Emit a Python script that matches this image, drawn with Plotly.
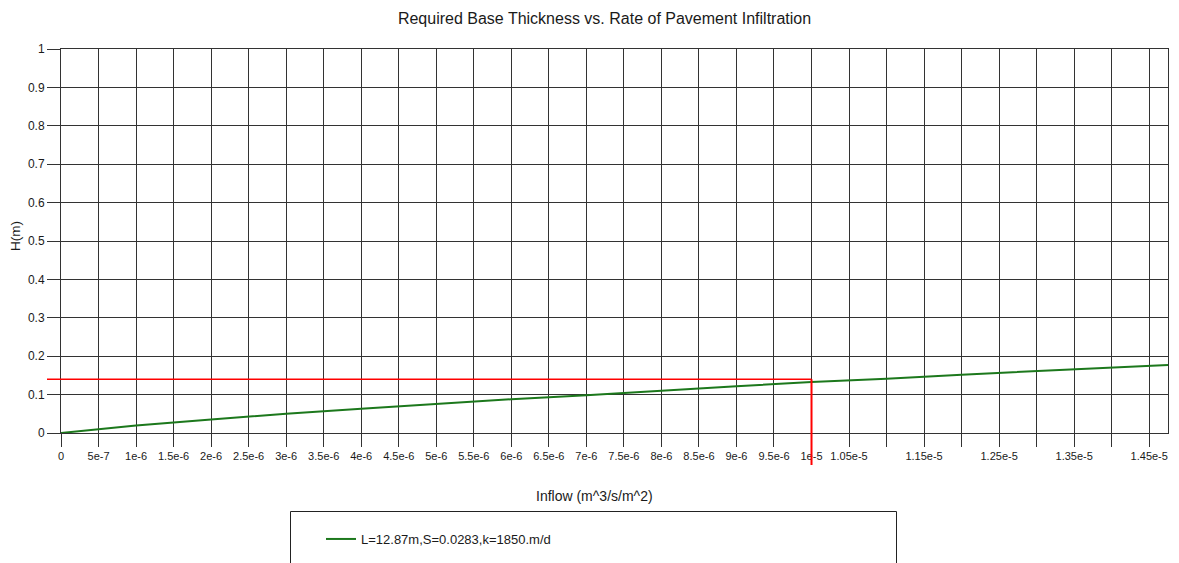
import plotly.graph_objects as go

# Required base thickness H (m) as a function of pavement inflow rate
inflow = [0, 1e-6, 2e-6, 3e-6, 4e-6, 5e-6, 6e-6, 7e-6, 8e-6, 9e-6,
          1e-5, 1.1e-5, 1.2e-5, 1.3e-5, 1.4e-5, 1.475e-5]
thickness = [0, 0.0196, 0.035, 0.050, 0.063, 0.076, 0.088, 0.0986, 0.111, 0.122,
             0.1325, 0.141, 0.152, 0.161, 0.171, 0.177]
series_name = "L=12.87m,S=0.0283,k=1850.m/d"

# Design point marked with red guide lines
design_inflow = 1e-5
design_thickness = 0.14

# Axis ticks
x_max = 1.475e-5
x_tickvals = [i * 5e-7 for i in range(30)]
x_ticktext = ["0", "5e-7", "1e-6", "1.5e-6", "2e-6", "2.5e-6", "3e-6", "3.5e-6",
              "4e-6", "4.5e-6", "5e-6", "5.5e-6", "6e-6", "6.5e-6", "7e-6", "7.5e-6",
              "8e-6", "8.5e-6", "9e-6", "9.5e-6", "1e-5", "1.05e-5", "", "1.15e-5",
              "", "1.25e-5", "", "1.35e-5", "", "1.45e-5"]
y_tickvals = [i / 10 for i in range(11)]
y_ticktext = ["0", "0.1", "0.2", "0.3", "0.4", "0.5", "0.6", "0.7", "0.8", "0.9", "1"]
y_range = [0, 1]

FONT = "Liberation Sans, Arial, sans-serif"
GRID = "#333333"
TEXT = "#1a1a1a"

W, H = 1179, 563
ML, MR, MT, MB = 61, 11, 49, 130
PW, PH = W - ML - MR, H - MT - MB


def px_x(p):
    return (p - ML) / PW


def px_y(p):
    return (H - MB - p) / PH


fig = go.Figure()
fig.add_trace(go.Scatter(
    x=inflow, y=thickness, mode="lines", name=series_name,
    line=dict(color="#1c781c", width=2),
))

shapes = [
    # horizontal guide at the design thickness
    dict(type="line", xref="paper", yref="y",
         x0=px_x(47), x1=design_inflow / x_max,
         y0=design_thickness, y1=design_thickness,
         line=dict(color="#ff0000", width=1.5)),
    # vertical guide at the design inflow
    dict(type="line", xref="x", yref="paper",
         x0=design_inflow, x1=design_inflow,
         y0=px_y(465), y1=(design_thickness - y_range[0]) / (y_range[1] - y_range[0]),
         line=dict(color="#ff0000", width=2)),
    # legend frame
    dict(type="rect", xref="paper", yref="paper",
         x0=px_x(290.5), x1=px_x(896.5), y0=px_y(580), y1=px_y(511.5),
         line=dict(color="#222222", width=1), fillcolor="rgba(0,0,0,0)"),
]

annotations = [
    dict(text="Inflow (m^3/s/m^2)", xref="paper", yref="paper",
         x=px_x(594), y=px_y(496), xanchor="center", yanchor="middle",
         showarrow=False, font=dict(family=FONT, size=14, color=TEXT)),
    dict(text="H(m)", xref="paper", yref="paper", textangle=-90,
         x=px_x(15), y=px_y(236), xanchor="center", yanchor="middle",
         showarrow=False, font=dict(family=FONT, size=13.5, color=TEXT)),
]

fig.update_layout(
    width=W, height=H,
    margin=dict(l=ML, r=MR, t=MT, b=MB, autoexpand=False),
    paper_bgcolor="white", plot_bgcolor="white",
    font=dict(family=FONT, size=11, color=TEXT),
    title=dict(text="Required Base Thickness vs. Rate of Pavement Infiltration",
               x=604.5 / W, xanchor="center", y=1 - 18 / H, yanchor="middle",
               xref="container", yref="container",
               font=dict(family=FONT, size=16, color=TEXT)),
    xaxis=dict(range=[0, x_max], tickmode="array", tickvals=x_tickvals,
               ticktext=x_ticktext, showgrid=True, gridcolor=GRID, gridwidth=1,
               ticks="outside", ticklen=13, tickcolor=GRID, tickwidth=1,
               showline=True, mirror=True, linecolor=GRID, linewidth=1,
               zeroline=False, tickfont=dict(size=11)),
    yaxis=dict(range=y_range, tickmode="array", tickvals=y_tickvals,
               ticktext=y_ticktext, showgrid=True, gridcolor=GRID, gridwidth=1,
               ticks="outside", ticklen=13, tickcolor=GRID, tickwidth=1,
               showline=True, mirror=True, linecolor=GRID, linewidth=1,
               zeroline=False, tickfont=dict(size=12)),
    shapes=shapes,
    annotations=annotations,
    showlegend=True,
    legend=dict(x=px_x(321), y=px_y(524), xanchor="left", yanchor="top",
                bgcolor="rgba(0,0,0,0)", borderwidth=0,
                font=dict(family=FONT, size=13, color=TEXT)),
)

fig.write_html("out.html")
